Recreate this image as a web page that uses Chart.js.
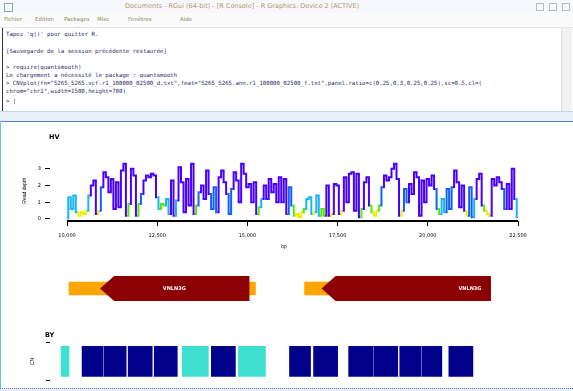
<!DOCTYPE html>
<html lang="fr">
<head>
<meta charset="utf-8">
<title>RGui - R Console</title>
<script src="https://cdn.jsdelivr.net/npm/chart.js@4.4.1/dist/chart.umd.min.js"></script>
<style>
  html, body { margin: 0; padding: 0; }
  body { width: 573px; height: 391px; position: relative; overflow: hidden; background: #fff; font-family: "DejaVu Sans", sans-serif; }
  .titlebar { position: absolute; left: 0; top: 0; width: 573px; height: 13px; background: #f6f8fb; }
  .titlebar .txt { position: absolute; left: 125px; top: 2px; font-size: 6.5px; color: #b09a6a; white-space: nowrap; }
  .titlebar .ico { position: absolute; left: 4px; top: 3px; width: 7px; height: 7px; border: 1px solid #8aa; }
  .titlebar .btn { position: absolute; top: 3px; width: 6px; height: 6px; border: 1px solid #bbb; }
  .menubar { position: absolute; left: 0; top: 13px; width: 573px; height: 14px; background: #fbfbfb; border-bottom: 1px solid #e4e4e4; }
  .menubar span { position: absolute; top: 3px; font-size: 5.5px; color: #8a8a60; }
  .console { position: absolute; left: 2px; top: 28px; width: 558px; height: 83px; border-left: 1px solid #333; background: #fff; }
  .console div { position: absolute; left: 3px; font-family: "DejaVu Sans Mono", monospace; font-size: 5.7px; color: #2a2a66; white-space: pre; }
  .scroll { position: absolute; left: 561px; top: 28px; width: 10px; height: 83px; background: #f2f2f2; border-left: 1px solid #ddd; }
  .sep { position: absolute; left: 0; top: 111px; width: 573px; height: 9px; background: #e9eff8; border-top: 1px solid #c9d5e6; border-bottom: 1px solid #4a86d4; }
  .plotwin { position: absolute; left: 0; top: 121px; width: 572px; height: 267px; border-left: 1px solid #5cc8e8; border-right: 1px solid #ccc; }
  .bottom { position: absolute; left: 0; top: 388px; width: 573px; height: 3px; border-top: 1px dotted #4a86d4; background: #eee; }
  canvas { position: absolute; left: 0; }
  .track { position: absolute; font-size: 6.5px; font-weight: bold; color: #000; }
</style>
</head>
<body>
<div class="titlebar">
  <div class="ico"></div>
  <div class="txt">Documents - RGui (64-bit) - [R Console] - R Graphics: Device 2 (ACTIVE)</div>
  <div class="btn" style="left:536px"></div>
  <div class="btn" style="left:549px"></div>
  <div class="btn" style="left:562px"></div>
</div>
<div class="menubar">
  <span style="left:4px">Fichier</span>
  <span style="left:35px">Edition</span>
  <span style="left:64px">Packages</span>
  <span style="left:97px">Misc</span>
  <span style="left:128px">Fenêtres</span>
  <span style="left:180px">Aide</span>
</div>
<div class="console">
  <div style="top:3px">Tapez 'q()' pour quitter R.</div>
  <div style="top:20px">[Sauvegarde de la session précédente restaurée]</div>
  <div style="top:36px">&gt; require(quantsmooth)</div>
  <div style="top:44px">Le chargement a nécessité le package : quantsmooth</div>
  <div style="top:52px">&gt; CNVplot(fn="5265_5265.vcf.r1_100000_02500_d.txt",feat="5265_5265.ann.r1_100000_02500_f.txt",panel.ratio=c(0.25,0.3,0.25,0.25),sc=0.5,cl=(</div>
  <div style="top:60px">chrom="chr1",width=1500,height=700)</div>
  <div style="top:70px">&gt; |</div>
</div>
<div class="scroll"></div>
<div class="sep"></div>
<div class="plotwin"></div>
<div class="bottom"></div>

<canvas id="depth" width="573" height="128" style="top:122px"></canvas>
<canvas id="genes" width="573" height="65" style="top:250px"></canvas>
<canvas id="blocks" width="573" height="68" style="top:320px"></canvas>
<div class="track" style="left:49px; top:133px">HV</div>
<div class="track" style="left:45px; top:331px">BY</div>

<script>
// bins along the region (one value per bin)
const tickPos = [0, 36, 72, 108, 144, 180];
const tickLabels = ["10,000", "12,500", "15,000", "17,500", "20,000", "22,500"];
const depthTicks = [0, 1, 2, 3];
const depth = [
  0.05, 1.3, 0.6, 1.4, 0.4, 0.2, 0.4, 0.3, 0.5, 1.4,
  2.0, 2.3, 0.3, 0.5, 1.9, 2.8, 2.5, 1.6, 2.4, 0.6,
  2.2, 0.7, 2.9, 3.3, 0.2, 0.9, 3.0, 2.6, 0.2, 0.9,
  1.5, 2.3, 2.6, 2.5, 2.7, 2.6, 1.3,
  0.6, 0.9, 0.8, 1.2, 0.3, 2.3, 0.2, 1.1, 3.1, 2.2,
  0.4, 2.4, 0.8, 3.3, 0.3, 0.8, 1.6, 2.0, 1.2, 2.9,
  1.5, 0.6, 1.9, 0.4, 2.5, 2.9, 2.2, 1.5, 0.3, 1.8,
  2.8, 2.3, 1.0, 3.3, 2.7, 1.9,
  2.1, 1.0, 2.2, 0.3, 0.7, 1.2, 2.0, 1.2, 2.4, 1.6, 2.1, 1.0, 2.5,
  1.0, 2.4, 0.3, 1.9, 0.8, 0.2, 0.3, 0.1, 0.4, 0.6, 1.2, 1.3,
  0.3, 0.4, 1.4, 0.2, 0.6, 0.2, 2.0, 0.2, 0.3, 2.1, 2.0,
  0.3, 0.5, 2.5, 1.0, 2.7, 2.8, 0.5, 2.7, 0.1, 0.6,
  2.2, 2.5, 0.8, 0.4, 0.2, 0.5, 0.8, 1.9, 2.6, 2.3,
  2.5, 3.0, 3.3, 2.4, 0.2, 0.5, 1.8, 1.0, 2.1, 1.5,
  2.8, 2.5, 0.2, 2.3, 1.0, 2.4,
  2.0, 2.6, 1.8, 0.6, 0.3, 1.2, 0.4, 1.8, 0.6, 1.9,
  2.9, 2.2, 0.7, 2.0, 0.5, 0.2, 1.9, 0.1, 1.2, 2.4,
  2.7, 0.8, 0.5, 0.3, 0.2, 2.4, 2.0, 2.5, 2.2, 1.8,
  0.6, 2.1, 0.6, 3.0, 1.2, 0.1
];

const geneNames = ["VNLN3G", "VNLN3G"];
const geneStarts = [13.2, 101.6];
const geneEnds = [72.8, 169.2];
const utrStarts = [0.8, 94.8];
const utrEnds = [75.2, 106.0];
const geneLabelPos = [42.8, 160.8];

const blockStarts = [-2.4, 6.0, 14.8, 24.4, 34.8, 46.0, 57.6, 68.4, 88.8, 98.4, 112.4, 122.4, 132.8, 141.6, 152.4];
const blockEnds = [0.8, 14.4, 23.6, 34.0, 44.0, 56.4, 67.2, 79.2, 97.2, 108.0, 122.0, 132.0, 141.2, 149.6, 162.0];
const blockState = [1, 2, 2, 2, 2, 1, 2, 1, 2, 2, 2, 2, 2, 2, 2];

const X_MIN = -6.8, X_MAX = 180;

function depthColor(v) {
    if (v < 0.55) return '#eeee00';
    if (v < 1.0) return '#55ee00';
    if (v < 1.5) return '#19b4ff';
    if (v < 2.0) return '#1060ff';
    return '#4a00ff';
}

// R style x axis line, only between first and last tick
const axisLine = {
    id: 'axisLine',
    afterDraw(chart) {
        const {ctx, scales: {x}, chartArea} = chart;
        ctx.save();
        ctx.strokeStyle = '#000';
        ctx.lineWidth = 2;
        ctx.beginPath();
        ctx.moveTo(x.getPixelForValue(tickPos[0]), chartArea.bottom);
        ctx.lineTo(x.getPixelForValue(tickPos[tickPos.length - 1]), chartArea.bottom);
        ctx.stroke();
        ctx.restore();
    }
};

new Chart(document.getElementById('depth'), {
    type: 'line',
    data: {
        datasets: [{
            data: depth.map((v, i) => ({x: i, y: v})),
            borderWidth: 2,
            pointRadius: 0,
            stepped: 'middle',
            fill: false,
            segment: {
                borderColor: ctx => depthColor(Math.max(ctx.p0.parsed.y, ctx.p1.parsed.y))
            }
        }]
    },
    options: {
        responsive: false,
        animation: false,
        layout: { padding: { top: 38.5, right: 55, left: 0, bottom: 0 } },
        plugins: { legend: { display: false }, tooltip: { enabled: false } },
        scales: {
            x: {
                type: 'linear',
                min: X_MIN, max: X_MAX,
                afterBuildTicks: s => { s.ticks = tickPos.map(v => ({value: v})); },
                afterFit: s => { s.height = 29; },
                border: { display: false },
                grid: { drawOnChartArea: false, drawTicks: true, tickLength: 5, color: '#000' },
                ticks: {
                    autoSkip: false, maxRotation: 0, padding: 7, color: '#000',
                    font: { size: 5, family: 'DejaVu Sans' },
                    callback: (v, i) => tickLabels[i]
                },
                title: { display: true, text: 'bp', color: '#000', font: { size: 5 }, padding: 0 }
            },
            y: {
                min: -0.12, max: 3.5,
                afterBuildTicks: s => { s.ticks = depthTicks.map(v => ({value: v})); },
                afterFit: s => { s.width = 50; },
                border: { display: false },
                grid: { drawOnChartArea: false, drawTicks: true, tickLength: 5, color: '#000' },
                ticks: { padding: 4, color: '#000', font: { size: 5, family: 'DejaVu Sans' } },
                title: { display: true, text: 'Read depth', color: '#000', font: { size: 5 }, padding: { top: 22, bottom: 0 } }
            }
        }
    },
    plugins: [axisLine]
});

// gene bodies drawn as left-pointing arrows over the UTR bars
const geneBodies = {
    id: 'geneBodies',
    afterDatasetsDraw(chart) {
        const {ctx, scales: {x, y}} = chart;
        const cy = y.getPixelForValue(0);
        const half = 12.5, head = 14;
        ctx.save();
        geneNames.forEach((name, i) => {
            const x0 = x.getPixelForValue(geneStarts[i]);
            const x1 = x.getPixelForValue(geneEnds[i]);
            ctx.fillStyle = '#8b0000';
            ctx.beginPath();
            ctx.moveTo(x0, cy);
            ctx.lineTo(x0 + head, cy - half);
            ctx.lineTo(x1, cy - half);
            ctx.lineTo(x1, cy + half);
            ctx.lineTo(x0 + head, cy + half);
            ctx.closePath();
            ctx.fill();
            ctx.fillStyle = '#fff';
            ctx.font = 'bold 5px "DejaVu Sans"';
            ctx.textAlign = 'center';
            ctx.textBaseline = 'middle';
            ctx.fillText(name, x.getPixelForValue(geneLabelPos[i]), cy);
        });
        ctx.restore();
    }
};

new Chart(document.getElementById('genes'), {
    type: 'bar',
    data: {
        labels: ['genes'],
        datasets: utrStarts.map((s, i) => ({
            data: [[s, utrEnds[i]]],
            backgroundColor: '#ffa500',
            barThickness: 13,
            grouped: false
        }))
    },
    options: {
        indexAxis: 'y',
        responsive: false,
        animation: false,
        layout: { padding: { top: 12, right: 55, left: 50, bottom: 0 } },
        plugins: { legend: { display: false }, tooltip: { enabled: false } },
        scales: {
            x: { type: 'linear', min: X_MIN, max: X_MAX, display: false },
            y: { display: false }
        }
    },
    plugins: [geneBodies]
});

new Chart(document.getElementById('blocks'), {
    type: 'bar',
    data: {
        labels: ['BY'],
        datasets: [{
            data: blockStarts.map((s, i) => ({x: [s, blockEnds[i]], y: 'BY'})),
            backgroundColor: blockState.map(c => c === 1 ? '#40e0d0' : '#00008b'),
            barThickness: 30,
            borderWidth: 0
        }]
    },
    options: {
        indexAxis: 'y',
        responsive: false,
        animation: false,
        layout: { padding: { top: 22, right: 55, left: 0, bottom: 0 } },
        plugins: { legend: { display: false }, tooltip: { enabled: false } },
        scales: {
            x: { type: 'linear', min: X_MIN, max: X_MAX, display: false },
            y: {
                afterFit: s => { s.width = 50; },
                border: { display: false },
                grid: { drawOnChartArea: false, drawTicks: true, tickLength: 4, color: '#000' },
                ticks: { callback: () => '', padding: 0 },
                title: { display: true, text: 'CN', color: '#000', font: { size: 5 }, padding: { top: 30, bottom: 0 } }
            }
        }
    }
});
</script>
</body>
</html>
